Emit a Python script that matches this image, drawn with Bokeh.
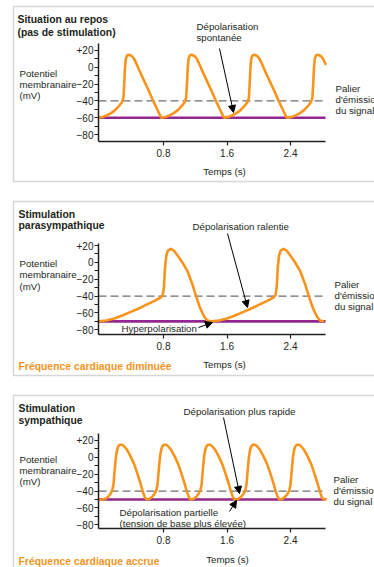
from bokeh.plotting import figure
from bokeh.layouts import column
from bokeh.models import Label, Arrow, NormalHead, FixedTicker, PolyAnnotation, Range1d
from bokeh.embed import file_html
from bokeh.resources import INLINE

FONT = "Liberation Sans"
ORANGE = "#f7941d"
PURPLE = "#92278f"
TEXT = "#231f20"
GREY = "#6d6e71"

# ---------------- data ----------------
x_ticks = [0.8, 1.6, 2.4]
y_ticks = [-80, -60, -40, -20, 0, 20]
y_minor_ticks = [-70, -50, -30, -10, 10]
y_tick_labels = {20: "+20", 0: "0", -20: "\u221220", -40: "\u221240", -60: "\u221260", -80: "\u221280"}
threshold_mv = -40
time_axis = (-0.019, 2.840)          # extent of the time axis (s)

# Rest (no stimulation): one beat read from the picture, and the beat start times
repos_beat_t = [0.00, 0.05, 0.10, 0.15, 0.20, 0.25, 0.29, 0.305, 0.315, 0.325, 0.335, 0.35, 0.375,
                0.41, 0.44, 0.47, 0.50, 0.56, 0.62, 0.68, 0.73, 0.76, 0.775, 0.785]
repos_beat_mv = [-60, -59, -57, -54.5, -51, -46, -41, -36, -20, 0, 10, 14, 15,
                 13.5, 10, 4, -2.5, -15, -27, -40, -50, -56, -59, -60]
repos_beat_starts = [-0.01, 0.78, 1.57, 2.37]
repos_baseline = -60
repos_mv_axis = (-88.33, 28.33)

# Parasympathetic stimulation
para_beat_t = [0.00, 0.10, 0.20, 0.30, 0.40, 0.50, 0.60, 0.70, 0.78, 0.81, 0.825, 0.84, 0.855, 0.875,
               0.91, 0.95, 0.99, 1.05, 1.12, 1.18, 1.23, 1.28, 1.33, 1.37, 1.41]
para_beat_mv = [-70, -69, -66.5, -63, -59, -55, -50.5, -46, -42, -39, -30, -5, 8, 14,
                16, 14, 9, 1, -10, -25, -40, -54, -64, -69, -70]
para_beat_starts = [-0.02, 1.40]
para_baseline = -70
para_mv_axis = (-85.6, 22.4)

# Sympathetic stimulation
symp_trace_start = (-0.019, -50)
symp_beat_t = [0.00, 0.03, 0.07, 0.10, 0.125, 0.14, 0.155, 0.17, 0.185, 0.20, 0.22, 0.245,
               0.27, 0.31, 0.35, 0.40, 0.44, 0.48, 0.51, 0.535, 0.555]
symp_beat_mv = [-50, -49.5, -47, -43.5, -39, -32, -15, 0, 9, 13, 15, 15,
                13.5, 9, 2, -8, -19, -31, -41, -47.5, -50]
symp_beat_starts = [0.03, 0.585, 1.14, 1.705, 2.26, 2.815]
symp_baseline = -50
symp_mv_axis = (-84.4, 28.3)

# ---------------- layout geometry (page pixels) ----------------
W = 374
FRAME_L, FRAME_R = 98, 325
X0, X1 = time_axis
NORMAL_SIZE = "9.7px"
BOLD_SIZE = "10.4px"


def trace(starts, bt, bv, lead=None):
    xs, ys = [], []
    if lead is not None:
        xs.append(lead[0]); ys.append(lead[1])
    for s in starts:
        for t, v in zip(bt, bv):
            if s + t <= X1 + 0.006:
                xs.append(s + t); ys.append(v)
    return xs, ys


panels = [
    dict(top=0, height=191, f_top=43, f_bot=141, mv=repos_mv_axis,
         curve=trace(repos_beat_starts, repos_beat_t, repos_beat_mv), base=repos_baseline,
         box=(13, 6, 181),
         labels=[("Situation au repos", 17, 19, "left", "bold", TEXT),
                 ("(pas de stimulation)", 17, 32, "left", "bold", TEXT),
                 ("Potentiel", 19, 73, "left", "normal", TEXT),
                 ("membranaire", 19, 84, "left", "normal", TEXT),
                 ("(mV)", 19, 95, "left", "normal", TEXT),
                 ("Dépolarisation", 196, 26, "left", "normal", TEXT),
                 ("spontanée", 196, 37, "left", "normal", TEXT),
                 ("Palier", 335, 88, "left", "normal", TEXT),
                 ("d'émission", 335, 99, "left", "normal", TEXT),
                 ("du signal", 335, 110, "left", "normal", TEXT),
                 ("Temps (s)", 224, 171, "center", "normal", TEXT)],
         arrows=[(219, 48, 233, 112)]),
    dict(top=191, height=194, f_top=243, f_bot=334, mv=para_mv_axis,
         curve=trace(para_beat_starts, para_beat_t, para_beat_mv), base=para_baseline,
         box=(13, 201, 375),
         labels=[("Stimulation", 18, 214, "left", "bold", TEXT),
                 ("parasympathique", 18, 225, "left", "bold", TEXT),
                 ("Potentiel", 19, 263, "left", "normal", TEXT),
                 ("membranaire", 19, 274, "left", "normal", TEXT),
                 ("(mV)", 19, 286, "left", "normal", TEXT),
                 ("Dépolarisation ralentie", 192, 226, "left", "normal", TEXT),
                 ("Hyperpolarisation", 121, 328, "left", "normal", TEXT),
                 ("Palier", 334, 284, "left", "normal", TEXT),
                 ("d'émission", 334, 295, "left", "normal", TEXT),
                 ("du signal", 334, 306, "left", "normal", TEXT),
                 ("Temps (s)", 224, 364, "center", "normal", TEXT),
                 ("Fréquence cardiaque diminuée", 18, 366, "left", "bold", ORANGE)],
         arrows=[(227, 233, 247, 307), (198, 327, 212, 322)]),
    dict(top=385, height=182, f_top=433, f_bot=528, mv=symp_mv_axis,
         curve=trace(symp_beat_starts, symp_beat_t, symp_beat_mv, symp_trace_start), base=symp_baseline,
         box=(13, 395, 620),
         labels=[("Stimulation", 18, 408, "left", "bold", TEXT),
                 ("sympathique", 18, 420, "left", "bold", TEXT),
                 ("Potentiel", 19, 459, "left", "normal", TEXT),
                 ("membranaire", 19, 470, "left", "normal", TEXT),
                 ("(mV)", 19, 481, "left", "normal", TEXT),
                 ("Dépolarisation plus rapide", 183, 411, "left", "normal", TEXT),
                 ("Dépolarisation partielle", 119, 512, "left", "normal", TEXT),
                 ("(tension de base plus élevée)", 119, 523, "left", "normal", TEXT),
                 ("Palier", 333, 479, "left", "normal", TEXT),
                 ("d'émission", 333, 490, "left", "normal", TEXT),
                 ("du signal", 333, 501, "left", "normal", TEXT),
                 ("Temps (s)", 227, 559, "center", "normal", TEXT),
                 ("Fréquence cardiaque accrue", 18, 561, "left", "bold", ORANGE)],
         arrows=[(223, 417, 239, 493), (229, 511, 236, 500)]),
]


def make_panel(sp):
    y0, y1 = sp["mv"]
    kx = (FRAME_R - FRAME_L) / (X1 - X0)
    ky = (sp["f_bot"] - sp["f_top"]) / (y1 - y0)

    def to_data(px, py):
        return X0 + (px - FRAME_L) / kx, y1 - (py - sp["f_top"]) / ky

    xa, ya_top = to_data(0, sp["top"])
    xb, ya_bot = to_data(W, sp["top"] + sp["height"])
    p = figure(width=W, height=sp["height"], x_range=Range1d(xa, xb), y_range=Range1d(ya_bot, ya_top),
               output_backend="svg", toolbar_location=None, min_border=0)
    p.outline_line_color = None
    p.grid.visible = False
    p.background_fill_color = "white"
    p.border_fill_color = "white"

    for ax in (p.xaxis[0], p.yaxis[0]):
        ax.axis_line_color = "#231f20"
        ax.axis_line_width = 1.5
        ax.major_tick_line_color = "#231f20"
        ax.major_tick_line_width = 1.2
        ax.major_tick_in = 0
        ax.major_tick_out = 4
        ax.major_label_text_font = FONT
        ax.major_label_text_font_size = "10px"
        ax.major_label_text_color = TEXT
    xaxis, yaxis = p.xaxis[0], p.yaxis[0]
    xaxis.fixed_location = y0
    xaxis.bounds = (X0, X1)
    xaxis.ticker = FixedTicker(ticks=x_ticks)
    xaxis.minor_tick_line_color = None
    xaxis.major_label_standoff = 3
    yaxis.fixed_location = X0
    yaxis.bounds = (y0, y1)
    yaxis.ticker = FixedTicker(ticks=y_ticks, minor_ticks=y_minor_ticks)
    yaxis.major_label_overrides = y_tick_labels
    yaxis.minor_tick_in = 0
    yaxis.minor_tick_out = 4
    yaxis.minor_tick_line_color = "#231f20"
    yaxis.minor_tick_line_width = 1.2
    yaxis.major_label_standoff = 1

    # threshold (dashed) and baseline (purple) across the time axis
    p.segment(x0=[X0], x1=[X1], y0=[threshold_mv], y1=[threshold_mv],
              line_color=GREY, line_width=1.3, line_dash="8 4")
    p.segment(x0=[X0], x1=[X1], y0=[sp["base"]], y1=[sp["base"]],
              line_color=PURPLE, line_width=2.6)

    xs, ys = sp["curve"]
    p.line(xs, ys, line_color=ORANGE, line_width=2.6, line_join="round", line_cap="round")

    bl, bt, bb = sp["box"]
    corners = [to_data(420, bt), to_data(bl, bt), to_data(bl, bb), to_data(420, bb)]
    p.add_layout(PolyAnnotation(xs=[c[0] for c in corners], ys=[c[1] for c in corners],
                                fill_alpha=0, line_color="#77787b", line_width=1.5))

    for txt, px, py, align, style, color in sp["labels"]:
        x, y = to_data(px, py)
        bold = style == "bold"
        p.add_layout(Label(x=x, y=y, text=txt, text_align=align, text_baseline="middle",
                           text_font=FONT, text_font_style=style,
                           text_font_size=BOLD_SIZE if bold else NORMAL_SIZE, text_color=color))

    for x0p, y0p, x1p, y1p in sp["arrows"]:
        xa_, ya_ = to_data(x0p, y0p)
        xb_, yb_ = to_data(x1p, y1p)
        p.add_layout(Arrow(x_start=xa_, y_start=ya_, x_end=xb_, y_end=yb_, line_color="black", line_width=1,
                           end=NormalHead(size=7, fill_color="black", line_color="black", line_width=1)))
    return p


figs = [make_panel(sp) for sp in panels]
layout = column(*figs, spacing=0)
open("out.html", "w").write(file_html(layout, INLINE))
